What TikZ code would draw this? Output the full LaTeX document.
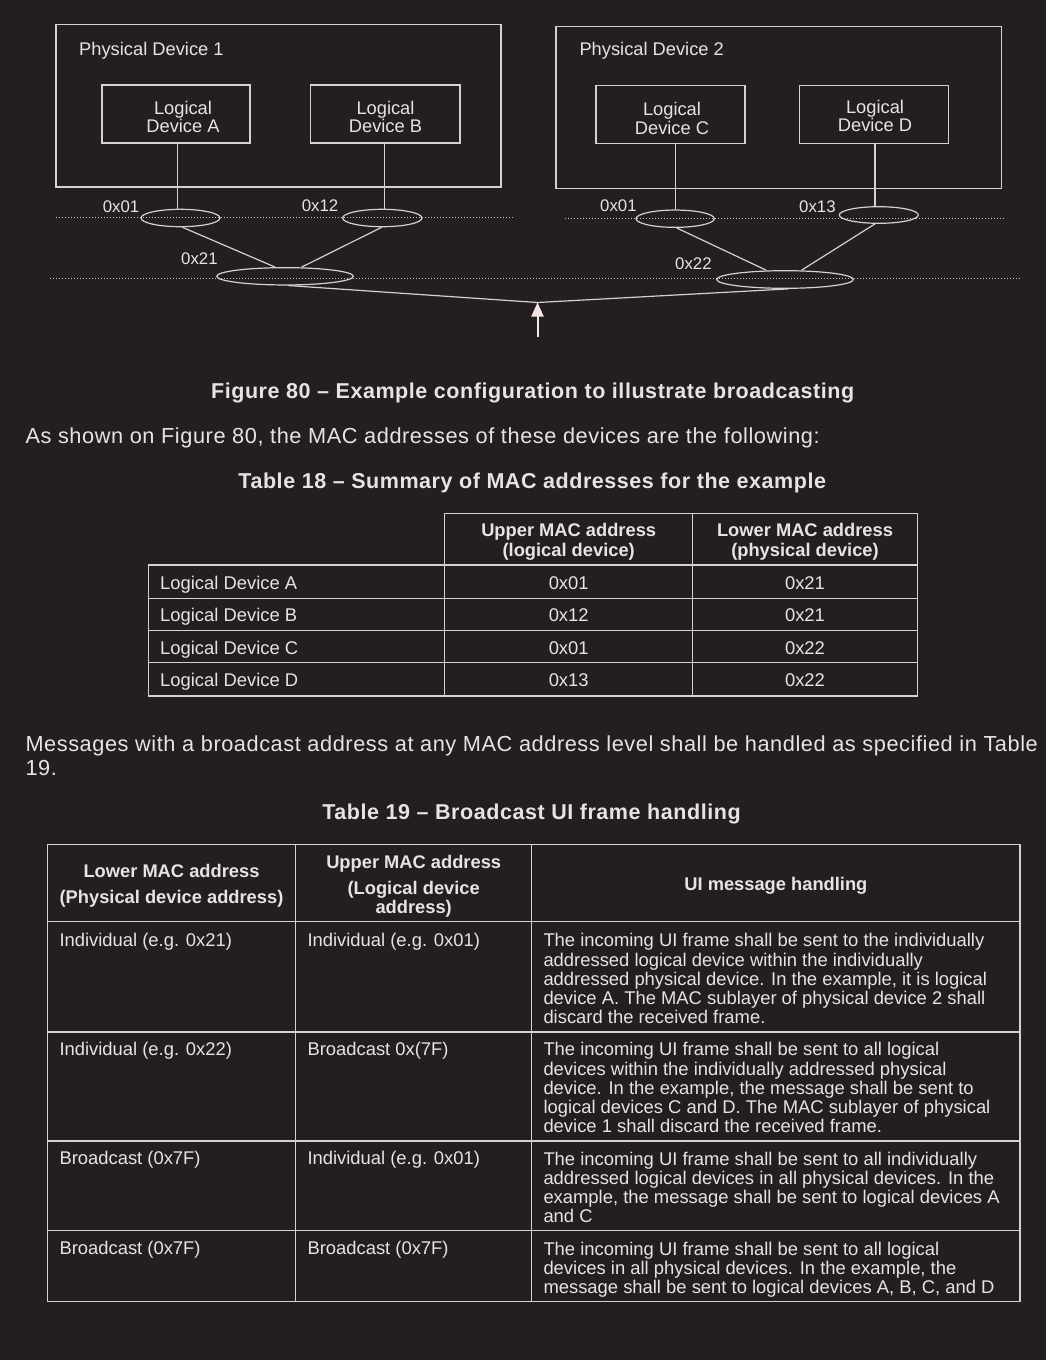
\documentclass[tikz,border=0pt]{standalone}
\usepackage{fontspec}
\setmainfont{Liberation Sans}
\newfontfamily\trackfont[LetterSpace=2.6]{Liberation Sans}
\usetikzlibrary{shapes.geometric,arrows.meta}
\definecolor{bg}{HTML}{231F20}
\definecolor{fg}{HTML}{E8E3E3}
\definecolor{ln}{HTML}{D6D0D0}
\definecolor{dotc}{HTML}{C8C2C2}
\definecolor{arr}{HTML}{F3E3E3}
\begin{document}
\begin{tikzpicture}[x=1pt,y=-1pt,
  txt/.style={text=fg,inner sep=0pt,font=\fontsize{18.4}{19.2}\selectfont},
  boldtxt/.style={text=fg,inner sep=0pt,font=\fontsize{18.3}{19.3}\selectfont\bfseries},
  trk/.style={text=fg,inner sep=0pt,font=\fontsize{21.75}{24}\selectfont\trackfont},
  trkb/.style={text=fg,inner sep=0pt,font=\fontsize{21.5}{24}\selectfont\trackfont\bfseries},
  boxtxt/.style={text=fg,inner sep=0pt,align=center,anchor=north,font=\fontsize{18.3}{18.3}\selectfont},
  lbl/.style={text=fg,inner sep=0pt,anchor=base west,font=\fontsize{16.8}{18}\selectfont},
  physbox/.style={draw=ln,line width=1.3pt,rectangle,inner sep=0pt},
  logbox/.style={draw=ln,line width=1.3pt,rectangle,inner sep=0pt,minimum height=58pt},
  addr/.style={draw=ln,line width=1.2pt,ellipse,inner sep=0pt},
  conn/.style={draw=ln,line width=1.2pt},
  dotline/.style={draw=dotc,line width=1pt,dash pattern=on 1.2pt off 1.8pt},
  tline/.style={draw=ln,line width=1.1pt},
  cell/.style={txt,anchor=base west},
  mcell/.style={txt,anchor=north west,align=left}
]
\fill[bg] (0,0) rectangle (1046,1360);
\useasboundingbox (0,0) rectangle (1046,1360);

% ---------- Figure 80 ----------
\node[physbox,minimum width=445pt,minimum height=162.7pt] (pd1) at (278.5,105.7) {};
\node[physbox,minimum width=445.3pt,minimum height=162pt] (pd2) at (778.7,107.7) {};
\node[txt,anchor=base west,font=\fontsize{18.3}{19.2}\selectfont] (pd1t) at (79,55) {Physical Device 1};
\node[txt,anchor=base west,font=\fontsize{18.3}{19.2}\selectfont] (pd2t) at (579.3,55.5) {Physical Device 2};

\node[logbox,minimum width=148pt] (la) at (176,114) {};
\node[logbox,minimum width=149.3pt] (lb) at (385.3,114) {};
\node[logbox,minimum width=149pt] (lc) at (670.5,114.2) {};
\node[logbox,minimum width=149pt] (ld) at (873.8,114.2) {};
\node[boxtxt] (lat) at (183,101.2) {Logical\\Device A};
\node[boxtxt] (lbt) at (385.5,101.2) {Logical\\Device B};
\node[boxtxt] (lct) at (672,102.5) {Logical\\Device C};
\node[boxtxt] (ldt) at (875,100.2) {Logical\\Device D};

% dotted levels
\coordinate (d1a) at (56,217.7);  \coordinate (d1b) at (514,217.7);
\coordinate (d1c) at (565,218.3); \coordinate (d1d) at (1004,218.3);
\coordinate (d2a) at (50,278);    \coordinate (d2b) at (1022,278);
\draw[dotline] (d1a) -- (d1b);
\draw[dotline] (d1c) -- (d1d);
\draw[dotline] (d2a) -- (d2b);

% address ellipses
\node[addr,minimum width=79pt,minimum height=17.4pt] (e01a) at (180.5,218) {};
\node[addr,minimum width=79.3pt,minimum height=17.4pt] (e12) at (382.3,218) {};
\node[addr,minimum width=136.6pt,minimum height=17.3pt] (e21) at (285,276.3) {};
\node[addr,minimum width=78.3pt,minimum height=17.3pt] (e01c) at (675.2,218.7) {};
\node[addr,minimum width=79pt,minimum height=16.6pt] (e13) at (878.8,215) {};
\node[addr,minimum width=136.6pt,minimum height=17.6pt] (e22) at (785,279.5) {};

\node[lbl] (l01a) at (102.7,212.1) {0x01};
\node[lbl] (l12) at (301.7,211.1) {0x12};
\node[lbl] (l21) at (181,264.1) {0x21};
\node[lbl] (l01c) at (600,211.8) {0x01};
\node[lbl] (l13) at (799,212.8) {0x13};
\node[lbl] (l22) at (675,269.4) {0x22};

% connectors
\coordinate (va) at ([xshift=1.7pt]la.south);
\coordinate (vb) at ([xshift=-0.6pt]lb.south);
\coordinate (vc) at ([xshift=5.2pt]lc.south);
\coordinate (vd) at ([xshift=1.2pt]ld.south);
\draw[conn] (va) -- (va |- e01a.north);
\draw[conn] (vb) -- (vb |- e12.north);
\draw[conn] (vc) -- (vc |- e01c.north);
\draw[conn] (vd) -- (vd |- e13.north);
\draw[conn] ([xshift=2pt]e01a.south) -- ([xshift=-10pt]e21.north);
\draw[conn] ([xshift=-0.6pt]e12.south) -- ([xshift=16.7pt]e21.north);
\draw[conn] ([xshift=1.5pt]e01c.south) -- ([xshift=-19pt]e22.north);
\draw[conn] ([xshift=-3.8pt]e13.south) -- ([xshift=16.7pt]e22.north);

\coordinate (tip) at (537.5,302.5);
\coordinate (tail) at (537.5,336.7);
\draw[conn,line join=round] ([xshift=3.3pt]e21.south) -- (tip) -- ([xshift=3.3pt]e22.south);
\draw[draw=arr,line width=2pt,-{Triangle[width=12pt,length=14pt]}] (tail) -- (tip);

% ---------- captions and paragraphs ----------
\node[trkb,anchor=base] (cap80) at (532.7,398.3) {Figure 80 – Example configuration to illustrate broadcasting};
\node[trk,anchor=base west] (para1) at (25.3,443.2) {As shown on Figure 80, the MAC addresses of these devices are the following:};
\node[trkb,anchor=base] (cap18) at (532.3,488.6) {Table 18 – Summary of MAC addresses for the example};

% ---------- Table 18 ----------
\draw[tline] (444.8,513.3) rectangle (917.5,565);
\draw[tline] (148.6,565) rectangle (917.5,696);
\foreach \yy in {598.3,630.7,662.7} \draw[tline] (148.6,\yy) -- (917.5,\yy);
\draw[tline] (444.8,565) -- (444.8,696);
\draw[tline] (692.6,513.3) -- (692.6,696);

\node[boldtxt,anchor=north,align=center] (t18h1) at (568.7,523.4) {Upper MAC address\\(logical device)};
\node[boldtxt,anchor=north,align=center] (t18h2) at (805,523.4) {Lower MAC address\\(physical device)};

\node[cell] (t18a) at (160,589.9) {Logical Device A};
\node[cell] (t18b) at (160,621.6) {Logical Device B};
\node[cell] (t18c) at (160,654.2) {Logical Device C};
\node[cell] (t18d) at (160,686.6) {Logical Device D};
\node[txt,anchor=base] (t18a1) at (568.7,589.9) {0x01};
\node[txt,anchor=base] (t18b1) at (568.7,621.6) {0x12};
\node[txt,anchor=base] (t18c1) at (568.7,654.2) {0x01};
\node[txt,anchor=base] (t18d1) at (568.7,686.6) {0x13};
\node[txt,anchor=base] (t18a2) at (805,589.9) {0x21};
\node[txt,anchor=base] (t18b2) at (805,621.6) {0x21};
\node[txt,anchor=base] (t18c2) at (805,654.2) {0x22};
\node[txt,anchor=base] (t18d2) at (805,686.6) {0x22};

% ---------- paragraph 2 and caption ----------
\node[trk,anchor=north west,align=left] (para2) at (25.3,735.6) {Messages with a broadcast address at any MAC address level shall be handled as specified in Table\\19.};
\node[trkb,anchor=base] (cap19) at (531.5,819.4) {Table 19 – Broadcast UI frame handling};

% ---------- Table 19 ----------
\draw[tline] (47.3,844.3) rectangle (1020,1301.7);
\foreach \yy in {921.7,1032,1141,1230.5} \draw[tline] (47.3,\yy) -- (1020,\yy);
\foreach \xx in {295.7,531.7} \draw[tline] (\xx,844.3) -- (\xx,1301.7);

\node[boldtxt,anchor=north,align=center,font=\fontsize{18.3}{25.7}\selectfont\bfseries] (t19h1) at (171.5,864.45) {Lower MAC address\\(Physical device address)};
\node[boldtxt,anchor=north,align=center,font=\fontsize{18.3}{25.6}\selectfont\bfseries] (t19h2) at (413.7,855.15) {Upper MAC address\\(Logical device\\[-6.4pt]address)};
\node[boldtxt,anchor=base] (t19h3) at (775.9,890.85) {UI message handling};

\node[cell] (r1c1) at (59.3,946) {Individual (e.g. 0x21)};
\node[cell] (r1c2) at (307.3,946) {Individual (e.g. 0x01)};
\node[mcell] (r1c3) at (543.3,933.45) {The incoming UI frame shall be sent to the individually\\addressed logical device within the individually\\addressed physical device. In the example, it is logical\\device A. The MAC sublayer of physical device 2 shall\\discard the received frame.};

\node[cell] (r2c1) at (59.3,1055.55) {Individual (e.g. 0x22)};
\node[cell] (r2c2) at (307.3,1055.55) {Broadcast 0x(7F)};
\node[mcell] (r2c3) at (543.3,1042.45) {The incoming UI frame shall be sent to all logical\\devices within the individually addressed physical\\device. In the example, the message shall be sent to\\logical devices C and D. The MAC sublayer of physical\\device 1 shall discard the received frame.};

\node[cell] (r3c1) at (59.3,1164.85) {Broadcast (0x7F)};
\node[cell] (r3c2) at (307.3,1164.85) {Individual (e.g. 0x01)};
\node[mcell] (r3c3) at (543.3,1151.75) {The incoming UI frame shall be sent to all individually\\addressed logical devices in all physical devices. In the\\example, the message shall be sent to logical devices A\\and C};

\node[cell] (r4c1) at (59.3,1254.85) {Broadcast (0x7F)};
\node[cell] (r4c2) at (307.3,1254.85) {Broadcast (0x7F)};
\node[mcell] (r4c3) at (543.3,1241.75) {The incoming UI frame shall be sent to all logical\\devices in all physical devices. In the example, the\\message shall be sent to logical devices A, B, C, and D};
\end{tikzpicture}
\end{document}
